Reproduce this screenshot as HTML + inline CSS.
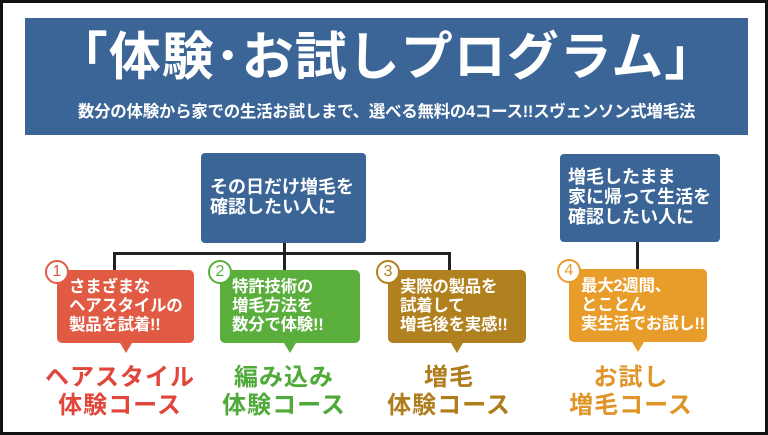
<!DOCTYPE html>
<html><head><meta charset="utf-8"><style>
*{margin:0;padding:0;box-sizing:border-box}
body{width:768px;height:435px;background:#fff;position:relative;overflow:hidden;font-family:"Liberation Sans","Noto Sans CJK JP",sans-serif;font-weight:bold}
.frame{position:absolute;left:0;top:0;width:768px;height:435px;border:3px solid #111}
.hdr{position:absolute;left:25px;top:18px;width:723px;height:117px;background:#3a6596;color:#fff;text-align:center}
.t{position:absolute;left:0;width:100%;top:12px;font-size:52px;line-height:56px;letter-spacing:1px;white-space:nowrap}
.s{position:absolute;left:0;width:100%;top:84px;font-size:16.5px;line-height:20px;white-space:nowrap;letter-spacing:-0.3px}
.b{position:absolute;background:#3a6596;color:#fff;border-radius:4px;font-size:18px;line-height:20px;white-space:nowrap}
.ln{position:absolute;background:#222}
.c{position:absolute;color:#fff;border-radius:5px;font-size:16.5px;line-height:19px;padding:8px 0 0 12px;height:73px;white-space:nowrap;letter-spacing:-0.3px}
.c:after{content:"";position:absolute;left:50%;bottom:-10px;margin-left:-6px;border-left:6px solid transparent;border-right:6px solid transparent;border-top:10px solid var(--k)}
.n{position:absolute;left:-12px;top:-10px;width:24px;height:24px;border-radius:50%;background:#fff;border:2px solid var(--k);color:var(--k);font-size:16px;line-height:20px;text-align:center;font-weight:normal;letter-spacing:0}
.l{position:absolute;width:180px;text-align:center;font-size:24px;line-height:28px;letter-spacing:1px}
</style></head><body>
<div class="frame"></div>
<div class="hdr"><div class="t">「体験･お試しプログラム」</div><div class="s">数分の体験から家での生活お試しまで、選べる無料の4コース!!スヴェンソン式増毛法</div></div>
<div class="b" style="left:201px;top:153px;width:165px;height:90px;padding:24px 0 0 9px">その日だけ増毛を<br>確認したい人に</div>
<div class="b" style="left:560px;top:154px;width:160px;height:88px;padding:13px 0 0 8px">増毛したまま<br>家に帰って生活を<br>確認したい人に</div>
<div class="ln" style="left:283px;top:243px;width:3px;height:11px"></div>
<div class="ln" style="left:113px;top:252px;width:338px;height:3px"></div>
<div class="ln" style="left:113px;top:252px;width:3px;height:18px"></div>
<div class="ln" style="left:283px;top:252px;width:3px;height:18px"></div>
<div class="ln" style="left:448px;top:252px;width:3px;height:18px"></div>
<div class="ln" style="left:636px;top:242px;width:3px;height:27px"></div>
<div class="c" style="--k:#e05a44;background:#e05a44;left:57px;top:270px;width:137px">さまざまな<br>ヘアスタイルの<br>製品を試着!!<div class="n">1</div></div>
<div class="c" style="--k:#5aae3c;background:#5aae3c;left:220px;top:270px;width:140px">特許技術の<br>増毛方法を<br>数分で体験!!<div class="n">2</div></div>
<div class="c" style="--k:#b0811e;background:#b0811e;left:388px;top:270px;width:138px">実際の製品を<br>試着して<br>増毛後を実感!!<div class="n">3</div></div>
<div class="c" style="--k:#e89c2a;background:#e89c2a;left:569px;top:269px;width:138px">最大2週間、<br>とことん<br>実生活でお試し!!<div class="n">4</div></div>
<div class="l" style="left:30px;top:364px;color:#e0463a">ヘアスタイル<br>体験コース</div>
<div class="l" style="left:194px;top:364px;color:#4faa3a">編み込み<br>体験コース</div>
<div class="l" style="left:359px;top:364px;color:#b07d1e">増毛<br>体験コース</div>
<div class="l" style="left:541px;top:364px;color:#e09528">お試し<br>増毛コース</div>
</body></html>
